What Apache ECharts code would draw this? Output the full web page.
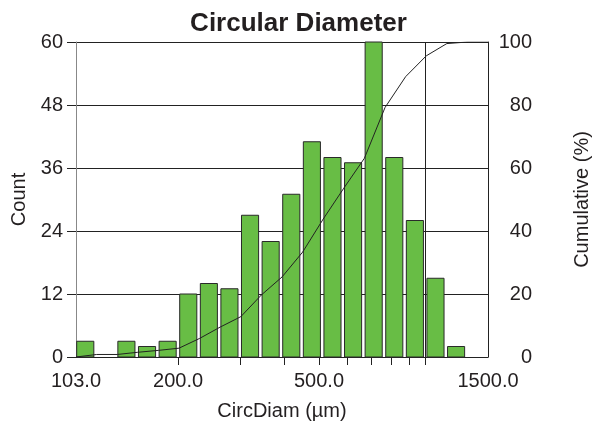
<!DOCTYPE html>
<html>
<head>
<meta charset="utf-8">
<script src="https://cdn.jsdelivr.net/npm/echarts@6/dist/echarts.min.js"></script>
<style>html,body{margin:0;padding:0;background:#fff}#c{width:597px;height:426px}</style>
</head>
<body>
<div id="c"></div>
<script>
// Bin edges (µm), log-spaced, 20 bins from 103 to 1500
const binEdges = [103, 117.8, 134.6, 153.9, 176.0, 201.2, 230.1, 263.0, 300.7, 343.8, 393.1,
  449.5, 513.9, 587.5, 671.7, 768.0, 878.1, 1003.9, 1147.8, 1312.3, 1500];
// Counts per bin
const counts = [3, 0, 3, 2, 3, 12, 14, 13, 27, 22, 31, 41, 38, 37, 63, 38, 26, 15, 2, 0];
// Cumulative percentage at each bin edge
const cumulative = [0, 0.8, 0.8, 1.5, 2.1, 2.8, 5.9, 9.5, 12.8, 19.7, 25.4, 33.3, 43.8, 53.6,
  63.1, 79.2, 89.0, 95.6, 99.5, 100, 100];
const xTickValues = [200, 300, 400, 500, 600, 700, 800, 900, 1000];
const xLabelValues = [103, 200, 500, 1500];
const xGridValues = [1000];

const L = Math.log10;
const FONT = 'Liberation Sans, Arial, sans-serif';
const TXT = '#231f20';

const barData = counts.map((c, i) => [binEdges[i], binEdges[i + 1], c]);
const lineData = binEdges.map((e, i) => [L(e), cumulative[i]]);

const chart = echarts.init(document.getElementById('c'));
chart.setOption({
  animation: false,
  title: {
    text: 'Circular Diameter', left: 'center', top: 6,
    textStyle: { fontFamily: FONT, fontSize: 26, fontWeight: 'bold', color: TXT }
  },
  grid: { left: 76, right: 109, top: 42, bottom: 69, containLabel: false, outerBoundsMode: 'none' },
  xAxis: {
    type: 'value', min: L(103), max: L(1500),
    name: 'CircDiam (µm)', nameLocation: 'middle', nameGap: 44,
    nameTextStyle: { fontFamily: FONT, fontSize: 20, color: TXT },
    axisLine: { show: true, lineStyle: { color: '#222', width: 1 } },
    axisTick: { show: true, length: 8, customValues: xTickValues.map(L), lineStyle: { color: '#222' } },
    axisLabel: {
      customValues: xLabelValues.map(L), margin: 14,
      fontFamily: FONT, fontSize: 20, color: TXT,
      formatter: v => Math.pow(10, v).toFixed(1)
    },
    splitLine: { show: false }
  },
  yAxis: [{
    type: 'value', min: 0, max: 60, interval: 12,
    name: 'Count', nameLocation: 'middle', nameGap: 44, nameRotate: 90,
    nameTextStyle: { fontFamily: FONT, fontSize: 20, color: TXT },
    axisLine: { show: true, lineStyle: { color: '#888', width: 1 } },
    axisTick: { show: true, length: 9, lineStyle: { color: '#222' } },
    axisLabel: { margin: 13, fontFamily: FONT, fontSize: 20, color: TXT },
    splitLine: { show: true, lineStyle: { color: '#222', width: 1 } }
  }, {
    type: 'value', min: 0, max: 100, interval: 20, position: 'right',
    name: 'Cumulative (%)', nameLocation: 'middle', nameGap: 84, nameRotate: 90,
    nameTextStyle: { fontFamily: FONT, fontSize: 20, color: TXT },
    axisLine: { show: true, lineStyle: { color: '#222', width: 1 } },
    axisTick: { show: false },
    axisLabel: { margin: 44, align: 'right', fontFamily: FONT, fontSize: 20, color: TXT },
    splitLine: { show: false }
  }],
  series: [{
    type: 'custom',
    data: barData,
    z: 3,
    renderItem: function (params, api) {
      const lo = api.coord([L(api.value(0)), 0]);
      const hi = api.coord([L(api.value(1)), api.value(2)]);
      const w = hi[0] - lo[0];
      const rect = echarts.graphic.clipRectByRect({
        x: lo[0] + 0.7, y: hi[1], width: w * 0.83, height: lo[1] - hi[1]
      }, {
        x: params.coordSys.x, y: params.coordSys.y,
        width: params.coordSys.width, height: params.coordSys.height
      });
      if (!rect || api.value(2) <= 0) return null;
      return {
        type: 'rect', shape: rect,
        style: { fill: '#68bd45', stroke: '#2a2a2a', lineWidth: 1 }
      };
    }
  }, {
    type: 'line',
    yAxisIndex: 1,
    data: lineData,
    showSymbol: false,
    symbol: 'none',
    z: 5,
    lineStyle: { color: '#222', width: 1 },
    markLine: {
      silent: true, symbol: 'none', label: { show: false },
      lineStyle: { color: '#222', width: 1, type: 'solid' },
      data: xGridValues.map(v => ({ xAxis: L(v) }))
    }
  }]
});
</script>
</body>
</html>
